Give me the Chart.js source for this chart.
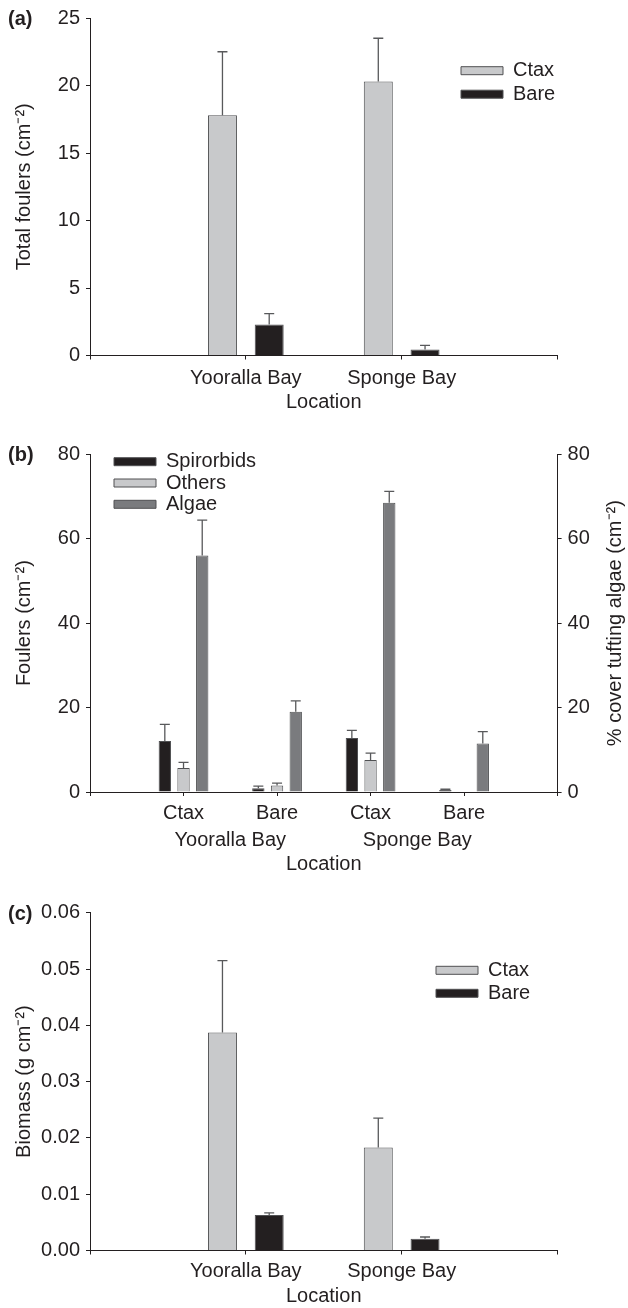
<!DOCTYPE html>
<html lang="en">
<head>
  <meta charset="UTF-8">
  <title>Foulers, algae and biomass by location</title>
  <script src="https://cdn.jsdelivr.net/npm/chart.js"></script>
  <style>
    body { margin: 0; background: #fff; }
    canvas { display: block; }
  </style>
</head>
<body>
  <canvas id="panelA" width="628" height="430"></canvas>
  <canvas id="panelB" width="628" height="450"></canvas>
  <canvas id="panelC" width="628" height="428"></canvas>

  <script>
    // values: bar = mean, whisker = upper error
    const sites = ['Yooralla Bay', 'Sponge Bay'];
    const treatments = ['Ctax', 'Bare'];

    // (a) total foulers (cm-2)
    const foulersCtax = [17.8, 20.3];
    const foulersCtaxErr = [4.7, 3.2];
    const foulersBare = [2.3, 0.45];
    const foulersBareErr = [0.8, 0.3];

    // (b) one value per treatment within site: Ctax, Bare, Ctax, Bare
    const spirorbids = [12.1, 0.9, 12.8, 0.5];
    const spirorbidsErr = [3.9, 0.5, 1.8, 0.15];
    const others = [5.7, 1.55, 7.6, null];
    const othersErr = [1.3, 0.55, 1.6, 0];
    const algae = [56.0, 19.0, 68.5, 11.5];
    const algaeErr = [8.4, 2.6, 2.7, 2.8];

    // (c) biomass (g cm-2)
    const biomassCtax = [0.0387, 0.0183];
    const biomassCtaxErr = [0.0128, 0.0052];
    const biomassBare = [0.0063, 0.0021];
    const biomassBareErr = [0.0004, 0.0003];

    const FONT = "'Liberation Sans', Arial, Helvetica, sans-serif";
    const INK = '#231f20';
    const PALE = '#c8c9cb';
    const GREY = '#7a7b7e';
    const EDGE = '#505153';
    const WHISKER = '#58595b';

    Chart.defaults.font.family = FONT;
    Chart.defaults.font.size = 20;
    Chart.defaults.color = INK;

    // empty slot at each end so the groups sit inside the axis like the original
    const padEnds = arr => [null, ...arr, null];
    const siteLabels = ['', ...sites, ''];
    const treatmentLabels = ['', ...sites.flatMap(() => treatments), ''];
    const siteCentres = sites.map((s, i) => 1 + i * treatments.length + (treatments.length - 1) / 2);

    // upward whiskers with a small cap
    const errorBars = {
      id: 'errorBars',
      afterDatasetsDraw(chart) {
        const ctx = chart.ctx;
        chart.data.datasets.forEach((ds, i) => {
          if (!ds.errors) return;
          const meta = chart.getDatasetMeta(i);
          const yScale = chart.scales[meta.yAxisID];
          meta.data.forEach((bar, j) => {
            const v = ds.data[j], e = ds.errors[j];
            if (v == null || !e) return;
            const top = yScale.getPixelForValue(v + e);
            ctx.save();
            ctx.strokeStyle = WHISKER;
            ctx.lineWidth = 1.3;
            ctx.beginPath();
            ctx.moveTo(bar.x, bar.y);
            ctx.lineTo(bar.x, top);
            ctx.moveTo(bar.x - 5, top);
            ctx.lineTo(bar.x + 5, top);
            ctx.stroke();
            ctx.restore();
          });
        });
      }
    };

    // put the legend at a spot inside the plot area
    const legendSpot = {
      id: 'legendSpot',
      afterLayout(chart, args, opts) {
        const lg = chart.legend;
        if (!lg || opts.left == null) return;
        const pad = lg.options.labels.padding;
        const w = lg.width, h = lg.height;
        lg.left = opts.left - pad;
        lg.top = opts.top - pad;
        lg.right = lg.left + w;
        lg.bottom = lg.top + h;
      }
    };

    // panel letter, and the right-hand title reading bottom to top
    const panelText = {
      id: 'panelText',
      afterDraw(chart, args, opts) {
        const { ctx, chartArea } = chart;
        ctx.save();
        ctx.fillStyle = INK;
        ctx.textBaseline = 'middle';
        ctx.font = 'bold 20px ' + FONT;
        ctx.textAlign = 'left';
        ctx.fillText(opts.tag, 8, chartArea.top + 1.5);
        if (opts.rightTitle) {
          ctx.font = '20px ' + FONT;
          ctx.textAlign = 'center';
          ctx.translate(chartArea.right + opts.rightGap, (chartArea.top + chartArea.bottom) / 2);
          ctx.rotate(-Math.PI / 2);
          ctx.fillText(opts.rightTitle, 0, 0);
        }
        ctx.restore();
      }
    };

    function barSet(label, data, errors, colour, axis) {
      return {
        label, data, errors,
        yAxisID: axis || 'y',
        backgroundColor: colour,
        borderColor: EDGE,
        borderWidth: 1
      };
    }

    function xAxis(height, pad, title) {
      return {
        type: 'category',
        offset: false,
        grid: { offset: false, drawOnChartArea: false, tickLength: 4, color: INK },
        border: { color: INK, width: 1 },
        ticks: { padding: pad, autoSkip: false, maxRotation: 0, color: INK },
        title: { display: !!title, text: title, padding: 0, color: INK },
        afterFit: s => { s.height = height; }
      };
    }

    function yAxis(min, max, step, title, fmt, position, width) {
      return {
        type: 'linear',
        position: position || 'left',
        min, max,
        grid: { drawOnChartArea: false, tickLength: 4, color: INK },
        border: { color: INK, width: 1 },
        ticks: { stepSize: step, padding: 6, color: INK, callback: fmt || (v => v) },
        title: { display: !!title, text: title, padding: 0, color: INK },
        afterFit: s => { s.width = width || 78; }
      };
    }

    function legendOpts(padding) {
      return {
        position: 'chartArea',
        align: 'start',
        labels: { boxWidth: 42, boxHeight: 8, padding, color: INK, font: { size: 20 } }
      };
    }

    // (a)
    new Chart(document.getElementById('panelA'), {
      type: 'bar',
      data: {
        labels: siteLabels,
        datasets: [
          barSet('Ctax', padEnds(foulersCtax), padEnds(foulersCtaxErr), PALE),
          barSet('Bare', padEnds(foulersBare), padEnds(foulersBareErr), INK)
        ]
      },
      options: {
        responsive: false,
        animation: false,
        categoryPercentage: 0.6,
        barPercentage: 0.62,
        layout: { padding: { left: 12, top: 17.3, right: 70.5, bottom: 15.2 } },
        scales: {
          x: xAxis(59.3, 7, 'Location'),
          y: yAxis(0, 25, 5, 'Total foulers (cm\u207B\u00B2)')
        },
        plugins: {
          legend: legendOpts(3.5),
          legendSpot: { left: 461, top: 60.7 },
          panelText: { tag: '(a)' },
          tooltip: { enabled: false }
        }
      },
      plugins: [errorBars, legendSpot, panelText]
    });

    // (b)
    new Chart(document.getElementById('panelB'), {
      type: 'bar',
      data: {
        labels: treatmentLabels,
        datasets: [
          barSet('Spirorbids', padEnds(spirorbids), padEnds(spirorbidsErr), INK),
          barSet('Others', padEnds(others), padEnds(othersErr), PALE),
          barSet('Algae', padEnds(algae), padEnds(algaeErr), GREY, 'y2')
        ]
      },
      options: {
        responsive: false,
        animation: false,
        categoryPercentage: 0.6,
        barPercentage: 0.66,
        layout: { padding: { left: 12, top: 24.3, right: 20.4, bottom: 4 } },
        scales: {
          x: xAxis(32, 5),
          // second row of labels: site names under each pair of treatments
          x2: {
            type: 'linear',
            position: 'bottom',
            offset: false,
            min: 0,
            max: treatmentLabels.length - 1,
            afterBuildTicks: s => { s.ticks = siteCentres.map(v => ({ value: v })); },
            ticks: { padding: 4.5, autoSkip: false, maxRotation: 0, color: INK, callback: (v, i) => sites[i] },
            grid: { display: false, drawTicks: false },
            border: { display: false },
            title: { display: true, text: 'Location', padding: 0, color: INK },
            afterFit: s => { s.height = 52; }
          },
          y: yAxis(0, 80, 20, 'Foulers (cm\u207B\u00B2)'),
          y2: yAxis(0, 80, 20, '', null, 'right', 50)
        },
        plugins: {
          legend: legendOpts(1.3),
          legendSpot: { left: 114, top: 21.7 },
          panelText: { tag: '(b)', rightTitle: '% cover tufting algae (cm\u207B\u00B2)', rightGap: 57.4 },
          tooltip: { enabled: false }
        }
      },
      plugins: [errorBars, legendSpot, panelText]
    });

    // (c)
    new Chart(document.getElementById('panelC'), {
      type: 'bar',
      data: {
        labels: siteLabels,
        datasets: [
          barSet('Ctax', padEnds(biomassCtax), padEnds(biomassCtaxErr), PALE),
          barSet('Bare', padEnds(biomassBare), padEnds(biomassBareErr), INK)
        ]
      },
      options: {
        responsive: false,
        animation: false,
        categoryPercentage: 0.6,
        barPercentage: 0.62,
        layout: { padding: { left: 12, top: 32.7, right: 70.5, bottom: 0 } },
        scales: {
          x: xAxis(57.5, 4.5, 'Location'),
          y: yAxis(0, 0.06, 0.01, 'Biomass (g cm\u207B\u00B2)', v => v.toFixed(2))
        },
        plugins: {
          legend: legendOpts(3),
          legendSpot: { left: 436, top: 80.3 },
          panelText: { tag: '(c)' },
          tooltip: { enabled: false }
        }
      },
      plugins: [errorBars, legendSpot, panelText]
    });
  </script>
</body>
</html>
